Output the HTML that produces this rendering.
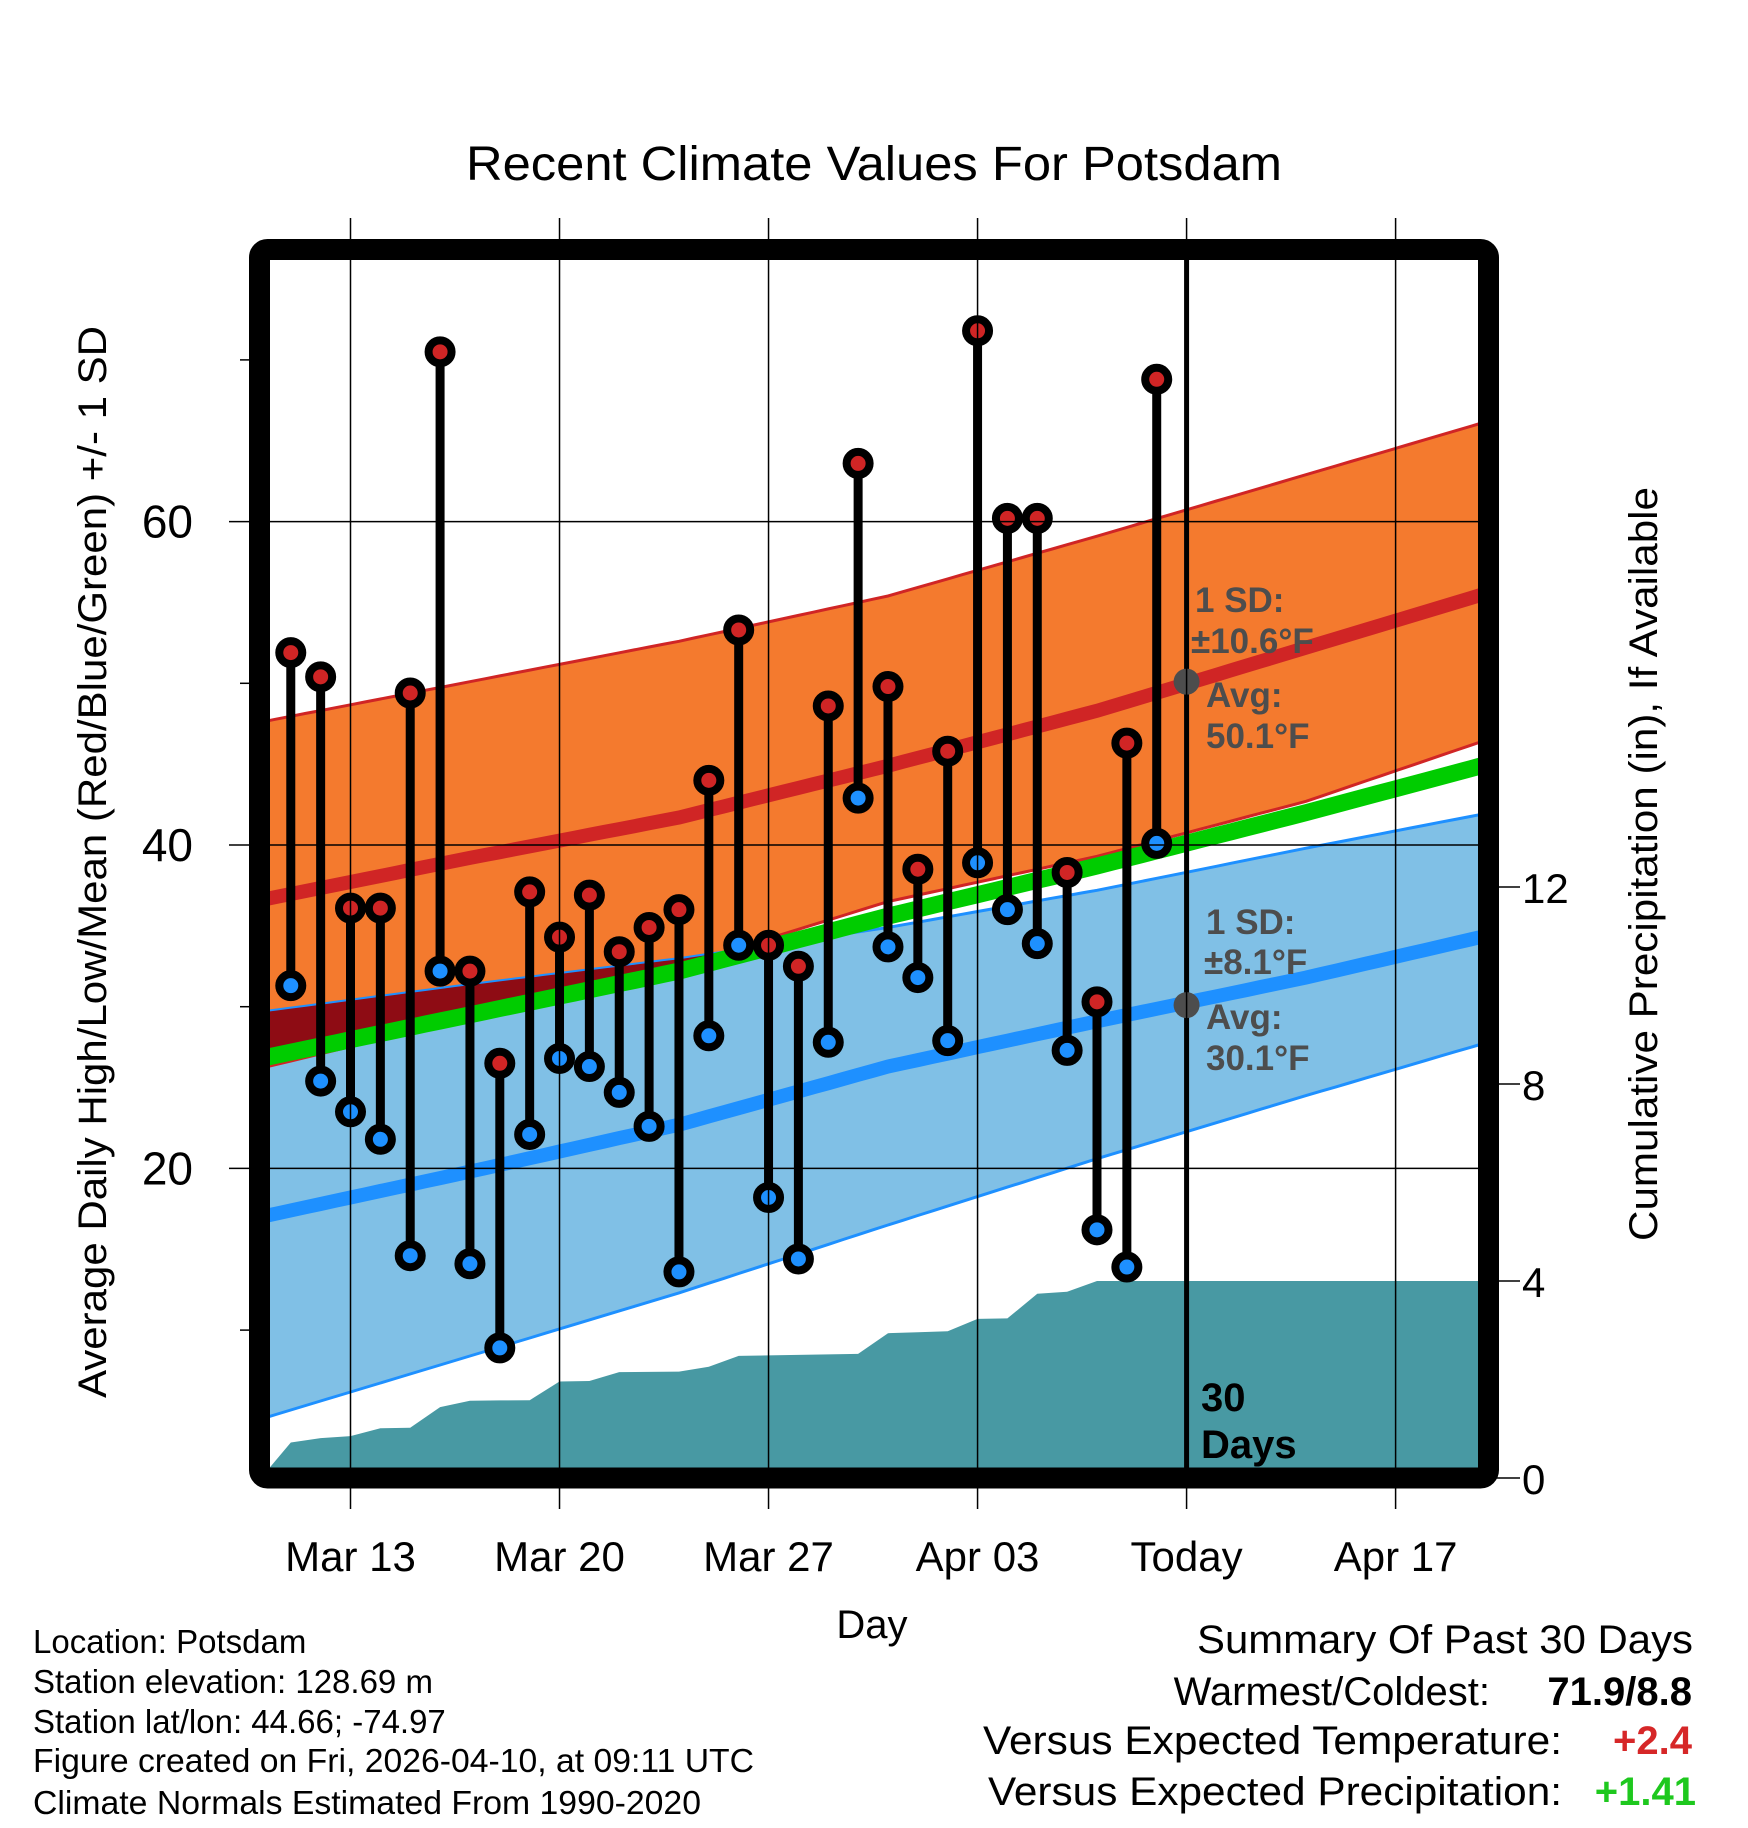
<!DOCTYPE html>
<html><head><meta charset="utf-8"><style>
html,body{margin:0;padding:0;background:#fff;}
svg{display:block;font-family:"Liberation Sans",Arial,sans-serif;}
</style></head><body>
<svg id="chart" width="1748" height="1828" viewBox="0 0 1748 1828" xmlns="http://www.w3.org/2000/svg">
<defs><clipPath id="plotclip"><rect x="270" y="260" width="1208" height="1208"/></clipPath></defs>
<text x="874" y="180" text-anchor="middle" font-size="48" textLength="816" lengthAdjust="spacingAndGlyphs">Recent Climate Values For Potsdam</text>
<g id="plot" clip-path="url(#plotclip)"></g>
<g id="axes"></g>
<rect x="259.5" y="249.5" width="1229" height="1228.5" rx="8" fill="none" stroke="#000" stroke-width="21"/>
<text transform="translate(106,862) rotate(-90)" text-anchor="middle" font-size="40" textLength="1072" lengthAdjust="spacingAndGlyphs">Average Daily High/Low/Mean (Red/Blue/Green) +/- 1 SD</text>
<text transform="translate(1657,864) rotate(-90)" text-anchor="middle" font-size="40" textLength="754" lengthAdjust="spacingAndGlyphs">Cumulative Precipitation (in), If Available</text>
<text x="872" y="1638" text-anchor="middle" font-size="40">Day</text>
<g font-size="33">
<text x="33" y="1653">Location: Potsdam</text>
<text x="33" y="1693">Station elevation: 128.69 m</text>
<text x="33" y="1733">Station lat/lon: 44.66; -74.97</text>
<text x="33" y="1772" textLength="721" lengthAdjust="spacingAndGlyphs">Figure created on Fri, 2026-04-10, at 09:11 UTC</text>
<text x="33" y="1814" textLength="668" lengthAdjust="spacingAndGlyphs">Climate Normals Estimated From 1990-2020</text>
</g>
<g font-size="40">
<text x="1693" y="1653" text-anchor="end" textLength="496" lengthAdjust="spacingAndGlyphs">Summary Of Past 30 Days</text>
<text x="1490" y="1705" text-anchor="end">Warmest/Coldest:</text>
<text x="1692" y="1705" text-anchor="end" font-weight="bold">71.9/8.8</text>
<text x="1562" y="1754" text-anchor="end" textLength="579" lengthAdjust="spacingAndGlyphs">Versus Expected Temperature:</text>
<text x="1692" y="1754" text-anchor="end" font-weight="bold" fill="#d62728">+2.4</text>
<text x="1562" y="1805" text-anchor="end" textLength="574" lengthAdjust="spacingAndGlyphs">Versus Expected Precipitation:</text>
<text x="1696" y="1805" text-anchor="end" font-weight="bold" fill="#1ec81e">+1.41</text>
</g>
</svg>
<script>
// ---- data ----
const obsDays = [11,12,13,14,15,16,17,18,19,20,21,22,23,24,25,26,27,28,29,30,31,32,33,34,35,36,37,38,39,40];
const highs = [51.9,50.4,36.1,36.1,49.4,70.5,32.2,26.5,37.1,34.3,36.9,33.4,34.9,36.0,44.0,53.3,33.8,32.5,48.6,63.6,49.8,38.5,45.8,71.8,60.2,60.2,38.3,30.3,46.3,68.8];
const lows = [31.3,25.4,23.5,21.8,14.6,32.2,14.1,8.9,22.1,26.8,26.3,24.7,22.6,13.6,28.2,33.8,18.2,14.4,27.8,42.9,33.7,31.8,27.9,38.9,36.0,33.9,27.3,16.2,13.9,40.1];
const normDays = [10,17,24,31,38,45,52];
const highMean = [36.6,39.2,41.7,44.9,48.3,52.2,56.1];
const highUpper = [47.6,50.1,52.6,55.4,59.1,62.9,66.7];
const highLower = [26.2,29.3,32.5,36.5,39.3,42.7,47.1];
const lowMean = [17.0,19.8,22.7,26.3,29.1,31.8,34.8];
const lowUpper = [29.7,31.4,33.0,34.9,37.2,39.8,42.3];
const lowLower = [4.5,8.4,12.3,16.5,20.6,24.5,28.3];
const precipDays = [10,11,12,13,14,15,16,17,18,19,20,21,22,23,24,25,26,27,28,29,30,31,32,33,34,35,36,37,38,39,40,52];
const precipCum = [0,0.72,0.81,0.85,1.01,1.02,1.44,1.57,1.575,1.58,1.96,1.97,2.15,2.155,2.16,2.26,2.48,2.49,2.50,2.51,2.52,2.94,2.96,2.98,3.23,3.24,3.74,3.78,4.0,4.0,4.0,4.0];
const xTickDays = [13,20,27,34,41,48];
const xTickLabels = ["Mar 13","Mar 20","Mar 27","Apr 03","Today","Apr 17"];
const yTicks = [20,40,60];
const yMinor = [10,30,50,70];
const y2Ticks = [0,4,8,12];
const todayDay = 41;
const todayHighAvg = 50.1, todayLowAvg = 30.1;

// ---- scales ----
const X = d => 350.5 + 29.86*(d-13);
const Y = v => 845 - (v-40)*16.17;
const YP = p => 1478 - p*49.25;
const NS = "http://www.w3.org/2000/svg";
function mk(tag, attrs, parent){const e=document.createElementNS(NS,tag);for(const k in attrs)e.setAttribute(k,attrs[k]);parent.appendChild(e);return e;}
function interp(xs, ys, x){ if(x<=xs[0])return ys[0]; for(let i=1;i<xs.length;i++){ if(x<=xs[i]){const t=(x-xs[i-1])/(xs[i]-xs[i-1]);return ys[i-1]+t*(ys[i]-ys[i-1]);} } return ys[ys.length-1]; }
const sampleDays=[]; for(let d=9; d<=53; d+=0.5) sampleDays.push(d);
function linePts(arr){return sampleDays.map(d=>X(d).toFixed(1)+','+Y(interp(normDays,arr,d)).toFixed(1));}
function bandPts(up,lo){return linePts(up).concat(linePts(lo).reverse()).join(' ');}

const plot = document.getElementById('plot');
const axes = document.getElementById('axes');

// bands
let el = mk('polygon',{points:bandPts(lowUpper,lowLower),fill:'#80c0e6',stroke:'none'},plot);


el = mk('polyline',{points:linePts(lowUpper).join(' '),fill:'none',stroke:'#1e90ff','stroke-width':3},plot);


el = mk('polyline',{points:linePts(lowLower).join(' '),fill:'none',stroke:'#1e90ff','stroke-width':3},plot);


el = mk('polygon',{points:bandPts(highUpper,highLower),fill:'#f47a2e',stroke:'none'},plot);


// overlap region (dark red)
const ovTop=[], ovBot=[];
sampleDays.forEach(d=>{const lu=interp(normDays,lowUpper,d), hl=interp(normDays,highLower,d); const top=lu, bot=Math.min(hl,lu); ovTop.push(X(d).toFixed(1)+','+Y(top).toFixed(1)); ovBot.push(X(d).toFixed(1)+','+Y(bot).toFixed(1));});
el = mk('polygon',{points:ovTop.concat(ovBot.reverse()).join(' '),fill:'#8e0c14'},plot);


el = mk('polyline',{points:linePts(highUpper).join(' '),fill:'none',stroke:'#d02525','stroke-width':3},plot);


el = mk('polyline',{points:linePts(highLower).join(' '),fill:'none',stroke:'#d02525','stroke-width':3},plot);


el = mk('polyline',{points:linePts(lowUpper).join(' '),fill:'none',stroke:'#1e90ff','stroke-width':2},plot);


// mean lines
el = mk('polyline',{points:linePts(highMean).join(' '),fill:'none',stroke:'#d02525','stroke-width':14},plot);


el = mk('polyline',{points:linePts(lowMean).join(' '),fill:'none',stroke:'#1e90ff','stroke-width':14},plot);


const avgMean = highMean.map((h,i)=>(h+lowMean[i])/2);
el = mk('polyline',{points:linePts(avgMean).join(' '),fill:'none',stroke:'#00cc00','stroke-width':17},plot);



// gridlines
yTicks.forEach(v=>{
  const g = mk('line',{x1:229,x2:1499,y1:Y(v),y2:Y(v),stroke:'#000','stroke-width':1.5},axes);
  
  
  const t = mk('text',{x:193,y:Y(v)+16,'text-anchor':'end','font-size':46},axes);
  t.textContent = v;
  
  
});
yMinor.forEach(v=>{
  const g = mk('line',{x1:240,x2:252,y1:Y(v),y2:Y(v),stroke:'#000','stroke-width':1.5},axes);
  
  
});
y2Ticks.forEach(p=>{
  const g = mk('line',{x1:1495,x2:1520,y1:YP(p),y2:YP(p),stroke:'#000','stroke-width':1.5},axes);
  
  
  const t = mk('text',{x:1522,y:YP(p)+16,'font-size':42},axes);
  t.textContent = p;
  
  
});
xTickDays.forEach((d,i)=>{
  const g = mk('line',{x1:X(d),x2:X(d),y1:218,y2:1509,stroke:'#000','stroke-width':1.5},axes);
  
  
  const t = mk('text',{x:X(d),y:1571,'text-anchor':'middle','font-size':42},axes);
  t.textContent = xTickLabels[i];
  
  
});

// precipitation area
const pp = precipDays.map((d,i)=>X(d).toFixed(1)+','+YP(precipCum[i]).toFixed(1));
pp.push(X(precipDays[precipDays.length-1]).toFixed(1)+','+YP(0));
pp.push(X(precipDays[0]).toFixed(1)+','+YP(0));
el = mk('polygon',{points:pp.join(' '),fill:'#4899a3'},plot);



// today line
el = mk('line',{x1:X(todayDay),x2:X(todayDay),y1:255,y2:1470,stroke:'#000','stroke-width':5},plot);



// stems and markers
obsDays.forEach((d,i)=>{
  const s = mk('line',{x1:X(d),x2:X(d),y1:Y(highs[i]),y2:Y(lows[i]),stroke:'#000','stroke-width':9},plot);
  
  
});
obsDays.forEach((d,i)=>{
  const h = mk('circle',{cx:X(d),cy:Y(highs[i]),r:11.5,fill:'#d02525',stroke:'#000','stroke-width':8},plot);
  
  
  const l = mk('circle',{cx:X(d),cy:Y(lows[i]),r:11.5,fill:'#1e90ff',stroke:'#000','stroke-width':8},plot);
  
  
});

// today averages
el = mk('circle',{cx:X(todayDay),cy:Y(todayHighAvg),r:13,fill:'#4d4d4d'},plot);


el = mk('circle',{cx:X(todayDay),cy:Y(todayLowAvg),r:13,fill:'#4d4d4d'},plot);



const ann = [
 ['1 SD:',1195,612,'high-sd-label'],['\u00b110.6\u00b0F',1191,653,'high-sd-value'],['Avg:',1206,707,'high-avg-label'],['50.1\u00b0F',1206,748,'high-avg-value'],
 ['1 SD:',1206,934,'low-sd-label'],['\u00b18.1\u00b0F',1204,974,'low-sd-value'],['Avg:',1206,1029,'low-avg-label'],['30.1\u00b0F',1206,1070,'low-avg-value']
];
ann.forEach(a=>{
  const t = mk('text',{x:a[1],y:a[2],'font-size':35,'font-weight':'bold',fill:'#4d4d4d'},plot);
  t.textContent = a[0];
  
  
});
el = mk('text',{x:1201,y:1411,'font-size':40,'font-weight':'bold',fill:'#000'},plot);
el.textContent='30';


el = mk('text',{x:1201,y:1458,'font-size':40,'font-weight':'bold',fill:'#000'},plot);
el.textContent='Days';


</script>
</body></html>
